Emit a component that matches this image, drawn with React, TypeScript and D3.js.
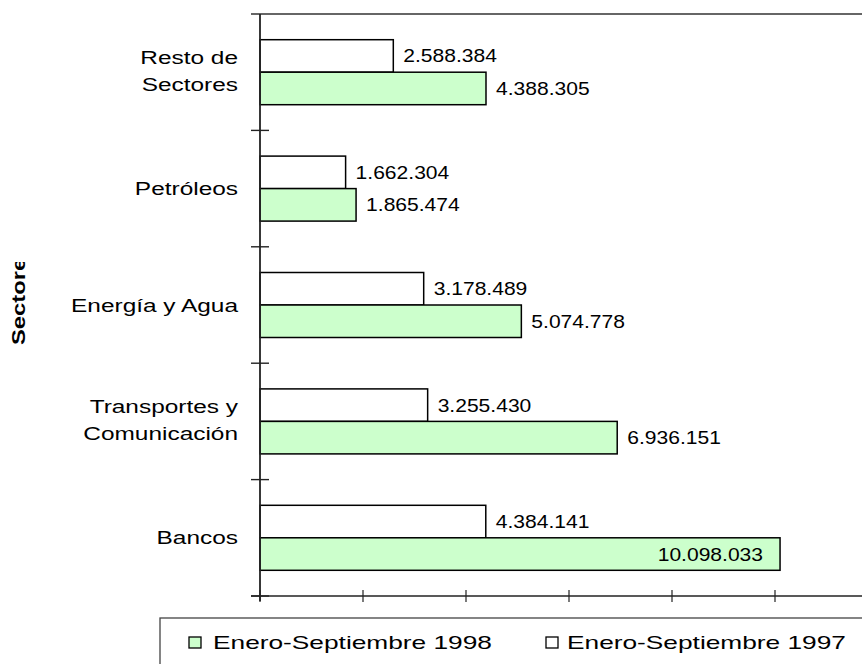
import React from "react";
import * as d3 from "d3";

const categories = ["Resto de Sectores", "Petróleos", "Energía y Agua", "Transportes y Comunicación", "Bancos"];
const categoryLines = [["Resto de", "Sectores"], ["Petróleos"], ["Energía y Agua"], ["Transportes y", "Comunicación"], ["Bancos"]];
const series = ["Enero-Septiembre 1997", "Enero-Septiembre 1998"];
const values1997 = [2588384, 1662304, 3178489, 3255430, 4384141];
const values1998 = [4388305, 1865474, 5074778, 6936151, 10098033];
const xTicks = [0, 2000000, 4000000, 6000000, 8000000, 10000000, 12000000];
const legendItems = ["Enero-Septiembre 1998", "Enero-Septiembre 1997"];
const yTitle = "Sectores";

const W = 862;
const H = 664;
const FONT = "'Liberation Sans', Arial, sans-serif";
const GREEN = "#ccffcc";

const fmt = d3.formatLocale({ decimal: ",", thousands: ".", grouping: [3], currency: ["", ""] }).format(",d");

export default function App() {
  const x = d3.scaleLinear().domain([0, 12000000]).range([260, 878]);
  const y = d3.scaleBand<string>().domain(categories).range([14, 596]).paddingInner(0);
  const bw = y.bandwidth();
  const pairH = 65;
  const inner = d3.scaleBand<string>().domain(series).range([0, pairH]);

  const bars: any[] = [];
  categories.forEach((c, i) => {
    const off = (y(c) as number) + (bw - pairH) / 2;
    [values1997[i], values1998[i]].forEach((v, j) => {
      bars.push({ c, v, s: series[j], y0: off + (inner(series[j]) as number), h: inner.bandwidth(), fill: j === 0 ? "#ffffff" : GREEN });
    });
  });

  const labelW = 97;
  const axisStroke = "#222";

  return (
    <svg width={W} height={H} style={{ position: "absolute", left: 0, top: 0, background: "#fff" }} fontFamily={FONT}>
      <defs>
        <clipPath id="titleClip">
          <rect x={0} y={262} width={60} height={200} />
        </clipPath>
      </defs>
      <rect x={0} y={0} width={W} height={H} fill="#fff" />

      {/* top border */}
      <line x1={251} x2={W} y1={14} y2={14} stroke="#333" strokeWidth={1.6} />

      {/* bars */}
      {bars.map((b, k) => (
        <rect key={k} x={x(0)} y={b.y0} width={x(b.v) - x(0)} height={b.h} fill={b.fill} stroke="#000" strokeWidth={1.5} />
      ))}

      {/* y axis */}
      <line x1={260} x2={260} y1={14} y2={601} stroke={axisStroke} strokeWidth={1.8} />
      {categories.map((c, i) => (
        <line key={"yt" + i} x1={251} x2={269} y1={(y(c) as number) + bw} y2={(y(c) as number) + bw} stroke={axisStroke} strokeWidth={1.4} />
      ))}

      {/* x axis */}
      <line x1={251} x2={W} y1={596} y2={596} stroke={axisStroke} strokeWidth={1.6} />
      {xTicks.map((t, i) => (
        <line key={"xt" + i} x1={x(t)} x2={x(t)} y1={590} y2={602} stroke={axisStroke} strokeWidth={1.2} />
      ))}

      {/* value labels */}
      {bars.map((b, k) => {
        const end = x(b.v);
        const inside = end + 10 + labelW > W;
        const lx = inside ? end - 17 : end + 10;
        const ly = b.y0 + b.h / 2 + 6.5;
        return (
          <text key={"l" + k} transform={`translate(${lx},${ly}) scale(1.17,1)`} textAnchor={inside ? "end" : "start"} fontSize={18} fill="#000">
            {fmt(b.v)}
          </text>
        );
      })}

      {/* category labels */}
      {categories.map((c, i) => {
        const cy = (y(c) as number) + bw / 2;
        const lines = categoryLines[i];
        return lines.map((ln, j) => {
          const by = lines.length === 1 ? cy + 6.5 : cy - 8.5 + j * 27;
          return (
            <text key={"c" + i + "_" + j} transform={`translate(238,${by}) scale(1.32,1)`} textAnchor="end" fontSize={18.5} fill="#000">
              {ln}
            </text>
          );
        });
      })}

      {/* y title (clipped) */}
      <g clipPath="url(#titleClip)">
        <text transform="translate(25,345) rotate(-90) scale(1.32,1)" fontSize={18} fontWeight="bold" fill="#000">
          {yTitle}
        </text>
      </g>

      {/* legend */}
      <rect x={160} y={618} width={760} height={100} fill="none" stroke="#444" strokeWidth={1.3} />
      {legendItems.map((t, i) => {
        const sx = i === 0 ? 189 : 546;
        const tx = i === 0 ? 213 : 567;
        return (
          <g key={"lg" + i}>
            <rect x={sx} y={637} width={12} height={11} fill={i === 0 ? GREEN : "#fff"} stroke="#000" strokeWidth={1.3} />
            <text transform={`translate(${tx},649) scale(1.46,1)`} fontSize={18} fill="#000">
              {t}
            </text>
          </g>
        );
      })}
    </svg>
  );
}
